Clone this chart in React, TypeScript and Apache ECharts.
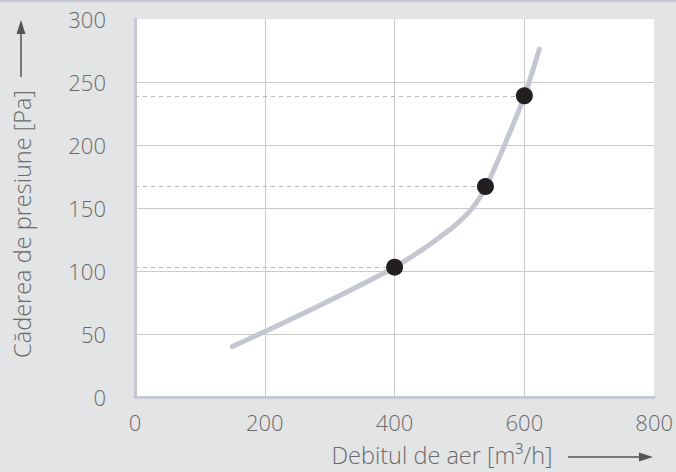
import React, { useEffect, useRef } from "react";
import * as echarts from "echarts";

const curveX = [150, 200, 250, 300, 350, 400, 440, 470, 495, 520, 540, 556, 572, 600, 623];
const curveY = [40, 52, 64, 76.5, 89.5, 103, 116, 127, 137, 150, 166, 184, 203, 239, 276];
const pointX = [400, 540, 600];
const pointY = [103, 167, 239];
const xTicks = [0, 200, 400, 600, 800];
const yTicks = [0, 50, 100, 150, 200, 250, 300];
const xTitle = "Debitul de aer [m³/h]";
const yTitle = "Căderea de presiune [Pa]";

const FONT = "'Open Sans', sans-serif";
const TXT = "#6a6a6a";

export default function App() {
  const ref = useRef<HTMLDivElement>(null);
  useEffect(() => {
    const chart = echarts.init(ref.current!, null, { renderer: "svg" });
    const curve = curveX.map((x, i) => [x, curveY[i]]);
    const pts = pointX.map((x, i) => [x, pointY[i]]);
    chart.setOption({
      animation: false,
      backgroundColor: "#e3e4e6",
      grid: {
        left: 135,
        top: 19,
        right: 21,
        bottom: 75,
        show: true,
        backgroundColor: "#ffffff",
        borderWidth: 0,
      },
      xAxis: {
        type: "value",
        min: xTicks[0],
        max: xTicks[xTicks.length - 1],
        interval: 200,
        axisLine: { show: true, lineStyle: { color: "#c6c9d3", width: 3 } },
        axisTick: { show: false },
        axisLabel: { color: TXT, fontFamily: FONT, fontSize: 22, fontWeight: 300, margin: 14 },
        splitLine: { show: true, showMinLine: false, showMaxLine: false, lineStyle: { color: "#c9c9c9", width: 1 } },
      },
      yAxis: {
        type: "value",
        min: yTicks[0],
        max: yTicks[yTicks.length - 1],
        interval: 50,
        axisLine: { show: true, lineStyle: { color: "#c6c9d3", width: 3 } },
        axisTick: { show: false },
        axisLabel: { color: TXT, fontFamily: FONT, fontSize: 22, fontWeight: 300, margin: 29 },
        splitLine: { show: true, showMinLine: false, showMaxLine: false, lineStyle: { color: "#c9c9c9", width: 1 } },
      },
      series: [
        {
          type: "line",
          data: curve,
          smooth: 0.35,
          showSymbol: false,
          symbol: "none",
          lineStyle: { color: "#c4c7d1", width: 5, cap: "round" },
          z: 3,
        },
        {
          type: "scatter",
          data: pts,
          symbolSize: 17,
          itemStyle: { color: "#231f20", opacity: 1 },
          z: 5,
          markLine: {
            silent: true,
            symbol: "none",
            label: { show: false },
            lineStyle: { color: "#b5b8c8", width: 1, type: [4, 4], opacity: 1 },
            data: pts.map((p) => [{ coord: [0, p[1]] }, { coord: [p[0], p[1]] }]),
          },
        },
      ],
      graphic: [
        { type: "rect", shape: { x: 0, y: 0, width: 676, height: 2 }, style: { fill: "#c6c9d3" } },
        {
          type: "text",
          x: 22,
          y: 224,
          rotation: Math.PI / 2,
          style: {
            text: yTitle,
            fill: TXT,
            font: `300 23.5px ${FONT}`,
            align: "center",
            verticalAlign: "middle",
          },
        },
        { type: "line", shape: { x1: 21, y1: 77, x2: 21, y2: 30 }, style: { stroke: "#555", lineWidth: 1.5 } },
        { type: "polygon", shape: { points: [[21, 20], [16.5, 34], [25.5, 34]] }, style: { fill: "#555" } },
        {
          type: "text",
          x: 442,
          y: 455,
          style: {
            text: xTitle,
            fill: TXT,
            font: `300 23.5px ${FONT}`,
            align: "center",
            verticalAlign: "middle",
          },
        },
        { type: "line", shape: { x1: 568, y1: 457, x2: 643, y2: 457 }, style: { stroke: "#555", lineWidth: 1.5 } },
        { type: "polygon", shape: { points: [[653, 457], [639, 452.5], [639, 461.5]] }, style: { fill: "#555" } },
      ],
    });
    return () => chart.dispose();
  }, []);
  return (
    <div
      ref={ref}
      style={{ position: "absolute", left: 0, top: 0, width: 676, height: 472 }}
    />
  );
}
